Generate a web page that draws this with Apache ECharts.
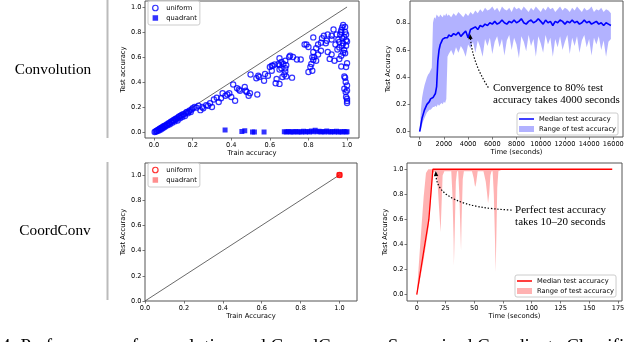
<!DOCTYPE html>
<html>
<head>
<meta charset="utf-8">
<script src="https://cdn.jsdelivr.net/npm/echarts@6/dist/echarts.min.js"></script>
<style>
html, body { margin: 0; padding: 0; background: #fff; }
#chart { width: 640px; height: 342px; }
</style>
</head>
<body>
<div id="chart"></div>
<script>
// ---- data ----
// top-left: test vs train accuracy, convolution
const convUniform = [
  [0.003,0.0],[0.008,0.004],[0.012,0.008],[0.015,0.006],[0.018,0.014],[0.022,0.018],[0.025,0.012],[0.028,0.024],
  [0.032,0.028],[0.035,0.02],[0.038,0.034],[0.042,0.036],[0.045,0.03],[0.048,0.044],[0.052,0.046],[0.055,0.04],
  [0.058,0.052],[0.062,0.05],[0.066,0.06],[0.07,0.055],[0.074,0.068],[0.078,0.07],[0.082,0.062],[0.086,0.08],
  [0.09,0.084],[0.094,0.075],[0.098,0.09],[0.102,0.096],[0.106,0.085],[0.11,0.104],[0.114,0.1],[0.118,0.11],
  [0.122,0.092],[0.126,0.118],[0.13,0.125],[0.134,0.11],[0.138,0.13],[0.142,0.135],[0.146,0.12],[0.15,0.143],
  [0.155,0.14],[0.16,0.128],[0.165,0.155],[0.17,0.16],[0.175,0.15],[0.18,0.165],[0.185,0.172],[0.19,0.16],
  [0.195,0.18],[0.2,0.19],
  [0.21,0.2],[0.22,0.195],[0.23,0.21],[0.24,0.175],[0.25,0.2],[0.255,0.19],[0.27,0.215],[0.28,0.21],[0.29,0.23],
  [0.3,0.2],[0.31,0.26],[0.325,0.275],[0.335,0.24],[0.347,0.27],[0.355,0.31],[0.37,0.29],[0.38,0.3],[0.39,0.31],
  [0.4,0.28],[0.41,0.38],[0.42,0.25],[0.43,0.35],[0.44,0.34],[0.445,0.33],[0.47,0.36],[0.475,0.33],[0.48,0.32],
  [0.49,0.29],[0.497,0.31],[0.5,0.46],[0.535,0.3],[0.54,0.45],[0.53,0.43],[0.545,0.44],[0.57,0.41],[0.575,0.465],
  [0.59,0.45],
  [0.6,0.52],[0.61,0.53],[0.615,0.53],[0.625,0.54],[0.61,0.49],[0.635,0.425],[0.63,0.39],[0.65,0.385],[0.665,0.44],
  [0.685,0.445],[0.715,0.435],[0.645,0.545],[0.65,0.535],[0.66,0.51],[0.65,0.5],[0.67,0.545],[0.685,0.535],
  [0.68,0.51],[0.68,0.485],[0.675,0.46],[0.68,0.57],[0.705,0.61],[0.72,0.6],[0.7,0.6],[0.74,0.58],[0.76,0.58],
  [0.65,0.59],[0.66,0.56],
  [0.78,0.7],[0.79,0.7],[0.8,0.68],[0.825,0.757],[0.85,0.7],[0.84,0.67],[0.825,0.64],[0.865,0.65],[0.85,0.62],
  [0.83,0.6],[0.82,0.598],[0.825,0.577],[0.84,0.57],[0.815,0.545],[0.81,0.52],[0.8,0.48],[0.82,0.49],
  [0.9,0.78],[0.88,0.77],[0.87,0.75],[0.895,0.73],[0.89,0.71],[0.865,0.715],[0.93,0.82],[0.946,0.78],[0.92,0.77],
  [0.92,0.74],
  [0.98,0.857],[0.975,0.836],[0.97,0.815],[0.99,0.8],[0.964,0.78],[0.995,0.78],[0.985,0.76],[0.975,0.75],
  [0.995,0.735],[1.0,0.725],[0.98,0.71],[0.995,0.69],[0.96,0.677],[0.985,0.656],[0.99,0.63],
  [0.9,0.64],[0.92,0.62],[0.91,0.585],[0.935,0.57],[0.96,0.585],[0.97,0.61],[0.98,0.635],[0.97,0.524],[1.0,0.55],
  [0.995,0.52],[0.955,0.74],[0.94,0.7],[0.95,0.66],[0.975,0.69],[0.96,0.72],[0.99,0.84],[0.97,0.8],
  [0.986,0.444],[0.99,0.434],[0.993,0.4],[1.0,0.373],[0.986,0.346],[1.0,0.333],[0.993,0.32],[0.995,0.28],
  [1.0,0.267],[1.0,0.248],[1.0,0.232]
];
const convQuadrant = [
  [0.368,0.016],[0.455,0.004],[0.47,0.01],[0.51,0.0],[0.52,0.0],[0.57,0.0],[0.675,0.002],[0.685,0.0],
  [0.695,0.004],[0.705,0.0],[0.715,0.002],[0.725,0.0],[0.735,0.004],[0.745,0.0],[0.755,0.002],[0.765,0.0],
  [0.775,0.006],[0.785,0.0],[0.795,0.004],[0.805,0.0],[0.815,0.008],[0.825,0.002],[0.835,0.014],[0.845,0.002],
  [0.855,0.006],[0.865,0.0],[0.875,0.004],[0.885,0.0],[0.895,0.008],[0.905,0.002],[0.915,0.0],[0.925,0.004],
  [0.935,0.0],[0.945,0.006],[0.955,0.0],[0.965,0.002],[0.975,0.0],[0.985,0.004],[0.995,0.0],[1.0,0.002]
];
// bottom-left: CoordConv reaches (1, 1)
const coordUniform = [[1.0, 1.0]];
const coordQuadrant = [[1.0, 1.0]];
const identityLine = [[0, 0], [1, 1]];

// top-right: convolution test accuracy over time (seconds)
const convTime = [0,100,200,300,400,500,600,700,800,900,1000,1100,1200,1300,1400,1500,1600,1700,1800,1900,2000,2100,2200,2300,2400,
  2600,2800,3000,3200,3400,3600,3800,4000,4200,4400,
  4600,4800,5000,5200,5400,5600,5800,6000,6200,6400,
  6600,6800,7000,7200,7400,7600,7800,8000,8200,8400,
  8600,8800,9000,9200,9400,9600,9800,10000,10200,10400,
  10600,10800,11000,11200,11400,11600,11800,12000,12200,12400,
  12600,12800,13000,13200,13400,13600,13800,14000,14200,14400,
  14600,14800,15000,15200,15400,15600,15800];
const convMedian = [0,0.05,0.10,0.13,0.16,0.18,0.20,0.21,0.22,0.24,0.23,0.25,0.26,0.28,0.33,0.52,0.60,0.64,0.66,0.68,0.67,0.69,0.70,0.69,0.71,
  0.70,0.72,0.71,0.73,0.70,0.72,0.74,0.69,0.75,0.76,
  0.77,0.75,0.78,0.77,0.79,0.78,0.80,0.79,0.81,0.79,
  0.80,0.82,0.80,0.79,0.81,0.80,0.82,0.80,0.81,0.83,
  0.80,0.79,0.81,0.82,0.80,0.81,0.83,0.81,0.79,0.82,
  0.80,0.81,0.78,0.81,0.80,0.82,0.81,0.79,0.81,0.80,
  0.82,0.80,0.81,0.79,0.80,0.82,0.80,0.81,0.79,0.80,
  0.81,0.79,0.80,0.78,0.80,0.79,0.78];
const convLow = [0,0.01,0.05,0.08,0.10,0.12,0.14,0.15,0.16,0.16,0.17,0.18,0.18,0.19,0.18,0.20,0.19,0.20,0.21,0.20,0.22,0.21,0.24,0.55,0.57,
  0.60,0.56,0.62,0.58,0.63,0.60,0.55,0.64,0.61,0.66,
  0.58,0.67,0.62,0.55,0.68,0.63,0.69,0.57,0.66,0.70,
  0.62,0.68,0.56,0.67,0.71,0.60,0.69,0.64,0.54,0.70,
  0.66,0.59,0.71,0.63,0.68,0.55,0.70,0.65,0.58,0.71,
  0.64,0.69,0.55,0.68,0.62,0.70,0.60,0.66,0.71,0.57,
  0.69,0.63,0.70,0.58,0.67,0.71,0.62,0.68,0.56,0.69,
  0.64,0.70,0.60,0.67,0.55,0.66,0.68];
const convHigh = [0,0.16,0.25,0.30,0.34,0.37,0.40,0.42,0.43,0.45,0.47,0.80,0.84,0.83,0.86,0.85,0.84,0.86,0.85,0.84,0.86,0.85,0.87,0.85,0.86,
  0.84,0.87,0.85,0.88,0.86,0.84,0.87,0.85,0.88,0.86,
  0.89,0.87,0.90,0.88,0.91,0.89,0.90,0.92,0.89,0.91,
  0.88,0.92,0.90,0.89,0.91,0.88,0.92,0.90,0.91,0.89,
  0.92,0.90,0.88,0.91,0.89,0.92,0.90,0.88,0.91,0.89,
  0.92,0.90,0.91,0.88,0.90,0.92,0.89,0.91,0.90,0.88,
  0.91,0.89,0.92,0.90,0.88,0.91,0.89,0.90,0.92,0.88,
  0.90,0.89,0.91,0.88,0.90,0.89,0.87];

// bottom-right: CoordConv test accuracy over time (seconds)
const coordTime = [0,2,4,6,8,10,10.5,12,14,16,
  17,18,19,20,20.7,21.5,22.5,24,
  30,31,32,32.3,33,34,35,
  36,37,38,38.5,39,40,41,
  48,49.5,50.5,51,51.8,53,
  58,60,61,62,63,64,65,
  66,67,68,68.6,69.3,70,71,
  75,100,125,150,170];
const coordMedian = [0,0.114,0.229,0.343,0.457,0.571,0.60,0.77,1,1,
  1,1,1,1,1,1,1,1,
  1,1,1,1,1,1,1,
  1,1,1,1,1,1,1,
  1,1,1,1,1,1,
  1,1,1,1,1,1,1,
  1,1,1,1,1,1,1,
  1,1,1,1,1];
const coordLow = [0,0.08,0.18,0.28,0.40,0.52,0.56,0.72,0.97,0.985,
  0.985,0.90,0.75,0.60,0.50,0.70,0.95,0.985,
  0.985,0.80,0.45,0.23,0.50,0.90,0.985,
  0.985,0.80,0.50,0.35,0.60,0.92,0.985,
  0.985,0.93,0.87,0.86,0.90,0.985,
  0.985,0.90,0.82,0.73,0.80,0.95,0.985,
  0.985,0.80,0.45,0.18,0.50,0.85,0.985,
  1,1,1,1,1];
const coordHigh = [0,0.27,0.53,0.78,0.97,1,1,1,1,1,
  1,1,1,1,1,1,1,1,
  1,1,1,1,1,1,1,
  1,1,1,1,1,1,1,
  1,1,1,1,1,1,
  1,1,1,1,1,1,1,
  1,1,1,1,1,1,1,
  1,1,1,1,1];

// tick labels
const unitTicks = [0, 0.2, 0.4, 0.6, 0.8, 1.0];
const convAccTicks = [0, 0.2, 0.4, 0.6, 0.8];
const convTimeTicks = [0, 2000, 4000, 6000, 8000, 10000, 12000, 14000, 16000];
const coordTimeTicks = [0, 25, 50, 75, 100, 125, 150, 175];

const legendLabels = {
  convUniform: 'uniform', convQuadrant: 'quadrant',
  coordUniform: 'uniform', coordQuadrant: 'quadrant',
  convMedian: 'Median test accuracy', convRange: 'Range of test accuracy',
  coordMedian: 'Median test accuracy', coordRange: 'Range of test accuracy'
};

// annotations in data coordinates of their grid
const convNote = { grid: 1, lines: ['Convergence to 80% test', 'accuracy takes 4000 seconds'],
  textAt: [6060, 0.323], lineStep: -0.093, from: [5670, 0.323], ctrl: [4400, 0.50], to: [4160, 0.717] };
const coordNote = { grid: 3, lines: ['Perfect test accuracy', 'takes 10\u201320 seconds'],
  textAt: [85.5, 0.675], lineStep: -0.093, from: [82.5, 0.675], ctrl: [18.4, 0.70], to: [16.5, 0.986] };

const BLUE = '#0000ff';
const RED = '#ff0000';
const FONT = 'DejaVu Sans';
const SERIF = 'Liberation Serif';
const AXIS = '#555';
const SQUARE = 'path://M0,0L1,0L1,1L0,1Z';
const THIN_LINE = 'path://M0,0L10,0L10,1L0,1Z';

const chart = echarts.init(document.getElementById('chart'));

function oneDecimal(v) { return (Math.round(v * 10) / 10).toFixed(1); }
function integer(v) { return String(Math.round(v)); }

function axis(gridIndex, min, max, ticks, fmt, name, nameGap) {
  return {
    type: 'value', gridIndex, min, max,
    name, nameLocation: 'middle', nameGap,
    nameTextStyle: { fontFamily: FONT, fontSize: 6.8, color: '#000' },
    axisLine: { show: false, onZero: false },
    axisTick: { show: true, inside: false, length: 2.5, customValues: ticks, lineStyle: { color: AXIS, width: 0.8 } },
    axisLabel: { show: true, customValues: ticks, margin: 3.5, fontFamily: FONT, fontSize: 6.6, color: '#000', formatter: fmt },
    splitLine: { show: false }
  };
}

function grid(left, top, width, height) {
  return { left, top, width, height, show: true, borderColor: AXIS, borderWidth: 1, backgroundColor: '#fff' };
}

function band(name, g, times, lows, highs, color) {
  return {
    name, type: 'custom', coordinateSystem: 'cartesian2d', xAxisIndex: g, yAxisIndex: g,
    itemStyle: { color }, data: [[times[0], lows[0]]], z: 1,
    renderItem: function (params, api) {
      const pts = [];
      for (let i = 0; i < times.length; i++) pts.push(api.coord([times[i], highs[i]]));
      for (let i = times.length - 1; i >= 0; i--) pts.push(api.coord([times[i], lows[i]]));
      return { type: 'polygon', shape: { points: pts }, style: { fill: color } };
    }
  };
}

function median(name, g, times, vals, color, width) {
  return {
    name, type: 'line', xAxisIndex: g, yAxisIndex: g, symbol: 'none', showSymbol: false, z: 2,
    lineStyle: { color, width }, itemStyle: { color },
    data: times.map((t, i) => [t, vals[i]])
  };
}

function scatterLegend(left, top, uniformName, quadName, color, quadColor) {
  return {
    left, top, orient: 'vertical', selectedMode: false,
    itemWidth: 12, itemHeight: 5.5, itemGap: 0,
    padding: [2, 3, 2, 4],
    borderColor: '#ccc', borderWidth: 1, borderRadius: 2, backgroundColor: 'rgba(255,255,255,0.85)',
    textStyle: { fontFamily: FONT, fontSize: 6.7, color: '#000', lineHeight: 10 },
    formatter: n => legendLabels[n],
    data: [
      { name: uniformName, icon: 'circle', itemStyle: { color: 'rgba(255,255,255,0)', borderColor: color, borderWidth: 1.2 } },
      { name: quadName, icon: SQUARE, itemStyle: { color: quadColor, borderWidth: 0 } }
    ]
  };
}

function timeLegend(left, top, medName, rangeName, color, rangeColor) {
  return {
    left, top, orient: 'vertical', selectedMode: false,
    itemWidth: 15, itemHeight: 6, itemGap: 0,
    padding: [1, 2, 1, 2],
    borderColor: '#ccc', borderWidth: 1, borderRadius: 2, backgroundColor: 'rgba(255,255,255,0.85)',
    textStyle: { fontFamily: FONT, fontSize: 6.7, color: '#000', lineHeight: 10 },
    formatter: n => legendLabels[n],
    data: [
      { name: medName, icon: THIN_LINE, itemStyle: { color, borderWidth: 0 } },
      { name: rangeName, icon: 'rect', itemStyle: { color: rangeColor, borderWidth: 0 } }
    ]
  };
}

const option = {
  animation: false,
  backgroundColor: '#fff',
  textStyle: { fontFamily: FONT },
  grid: [
    grid(145, 1, 214, 137),
    grid(410, 1, 213, 136),
    grid(145, 163, 212, 138),
    grid(407, 163, 215, 138)
  ],
  xAxis: [
    axis(0, -0.047, 1.062, unitTicks, oneDecimal, 'Train accuracy', 11),
    axis(1, -800, 16800, convTimeTicks, integer, 'Time (seconds)', 11.5),
    axis(2, 0, 1.09, unitTicks, oneDecimal, 'Train Accuracy', 10.5),
    axis(3, -8.5, 178.5, coordTimeTicks, integer, 'Time (seconds)', 10.5)
  ],
  yAxis: [
    axis(0, -0.048, 1.048, unitTicks, oneDecimal, 'Test accuracy', 14.5),
    axis(1, -0.04, 0.96, convAccTicks, oneDecimal, 'Test Accuracy', 16),
    axis(2, 0, 1.095, unitTicks, oneDecimal, 'Test Accuracy', 16.5),
    axis(3, -0.05, 1.05, unitTicks, oneDecimal, 'Test Accuracy', 15.5)
  ],
  legend: [
    scatterLegend(148, 1, 'convUniform', 'convQuadrant', BLUE, BLUE),
    timeLegend(517, 113, 'convMedian', 'convRange', BLUE, 'rgba(0,0,255,0.3)'),
    scatterLegend(148, 163, 'coordUniform', 'coordQuadrant', RED, 'rgba(255,0,0,0.55)'),
    timeLegend(515, 275, 'coordMedian', 'coordRange', RED, 'rgba(255,0,0,0.3)')
  ],
  series: [
    { type: 'line', xAxisIndex: 0, yAxisIndex: 0, symbol: 'none', data: identityLine, z: 1,
      lineStyle: { color: '#444', width: 0.8 } },
    { name: 'convQuadrant', type: 'scatter', xAxisIndex: 0, yAxisIndex: 0, symbol: 'rect', symbolSize: 5, z: 2,
      itemStyle: { color: BLUE }, data: convQuadrant },
    { name: 'convUniform', type: 'scatter', xAxisIndex: 0, yAxisIndex: 0, symbol: 'circle', symbolSize: 5.2, z: 3,
      itemStyle: { color: 'rgba(255,255,255,0)', borderColor: BLUE, borderWidth: 1.2 }, data: convUniform },

    band('convRange', 1, convTime, convLow, convHigh, 'rgba(0,0,255,0.3)'),
    median('convMedian', 1, convTime, convMedian, BLUE, 1.6),

    { type: 'line', xAxisIndex: 2, yAxisIndex: 2, symbol: 'none', data: identityLine, z: 1,
      lineStyle: { color: '#444', width: 0.8 } },
    { name: 'coordUniform', type: 'scatter', xAxisIndex: 2, yAxisIndex: 2, symbol: 'circle', symbolSize: 5.2, z: 2,
      itemStyle: { color: 'rgba(255,255,255,0)', borderColor: RED, borderWidth: 1.2 }, data: coordUniform },
    { name: 'coordQuadrant', type: 'scatter', xAxisIndex: 2, yAxisIndex: 2, symbol: 'rect', symbolSize: 5.5, z: 3,
      itemStyle: { color: RED }, data: coordQuadrant },

    band('coordRange', 3, coordTime, coordLow, coordHigh, 'rgba(255,0,0,0.3)'),
    median('coordMedian', 3, coordTime, coordMedian, RED, 1.3)
  ]
};

chart.setOption(option);

// annotations: dotted curved arrow + serif text, placed from data coordinates
function note(n) {
  const toPx = p => chart.convertToPixel({ gridIndex: n.grid }, p);
  const p0 = toPx(n.from), c = toPx(n.ctrl), p1 = toPx(n.to);
  const dx = p1[0] - c[0], dy = p1[1] - c[1], len = Math.hypot(dx, dy);
  const ux = dx / len, uy = dy / len, L = 5, W = 2.2;
  const base = [p1[0] - ux * L, p1[1] - uy * L];
  const out = [
    { type: 'bezierCurve', z: 50,
      shape: { x1: p0[0], y1: p0[1], x2: base[0], y2: base[1], cpx1: c[0], cpy1: c[1] },
      style: { stroke: '#000', lineWidth: 1.2, lineDash: [1.4, 1.8], fill: 'none' } },
    { type: 'polygon', z: 50,
      shape: { points: [p1, [base[0] - uy * W, base[1] + ux * W], [base[0] + uy * W, base[1] - ux * W]] },
      style: { fill: '#000' } }
  ];
  n.lines.forEach((s, i) => {
    const p = toPx([n.textAt[0], n.textAt[1] + i * n.lineStep]);
    out.push({ type: 'text', z: 50, x: p[0], y: p[1],
      style: { text: s, fontFamily: SERIF, fontSize: 11, fill: '#000', align: 'left', verticalAlign: 'middle' } });
  });
  return out;
}

chart.setOption({
  graphic: [
    { type: 'line', shape: { x1: 107.5, y1: 0, x2: 107.5, y2: 138 }, style: { stroke: '#bbb', lineWidth: 2 } },
    { type: 'line', shape: { x1: 107.5, y1: 162, x2: 107.5, y2: 300 }, style: { stroke: '#bbb', lineWidth: 2 } },
    { type: 'text', x: 53, y: 70,
      style: { text: 'Convolution', fontFamily: SERIF, fontSize: 15.3, fill: '#000', align: 'center', verticalAlign: 'middle' } },
    { type: 'text', x: 55, y: 231,
      style: { text: 'CoordConv', fontFamily: SERIF, fontSize: 15.3, fill: '#000', align: 'center', verticalAlign: 'middle' } },
    { type: 'text', x: 1, y: 347.5,
      style: { text: '4: Performance of convolution and CoordConv on Supervised Coordinate Classification',
        fontFamily: SERIF, fontSize: 19, fill: '#000', align: 'left', verticalAlign: 'middle' } }
  ].concat(note(convNote), note(coordNote))
});
</script>
</body>
</html>
